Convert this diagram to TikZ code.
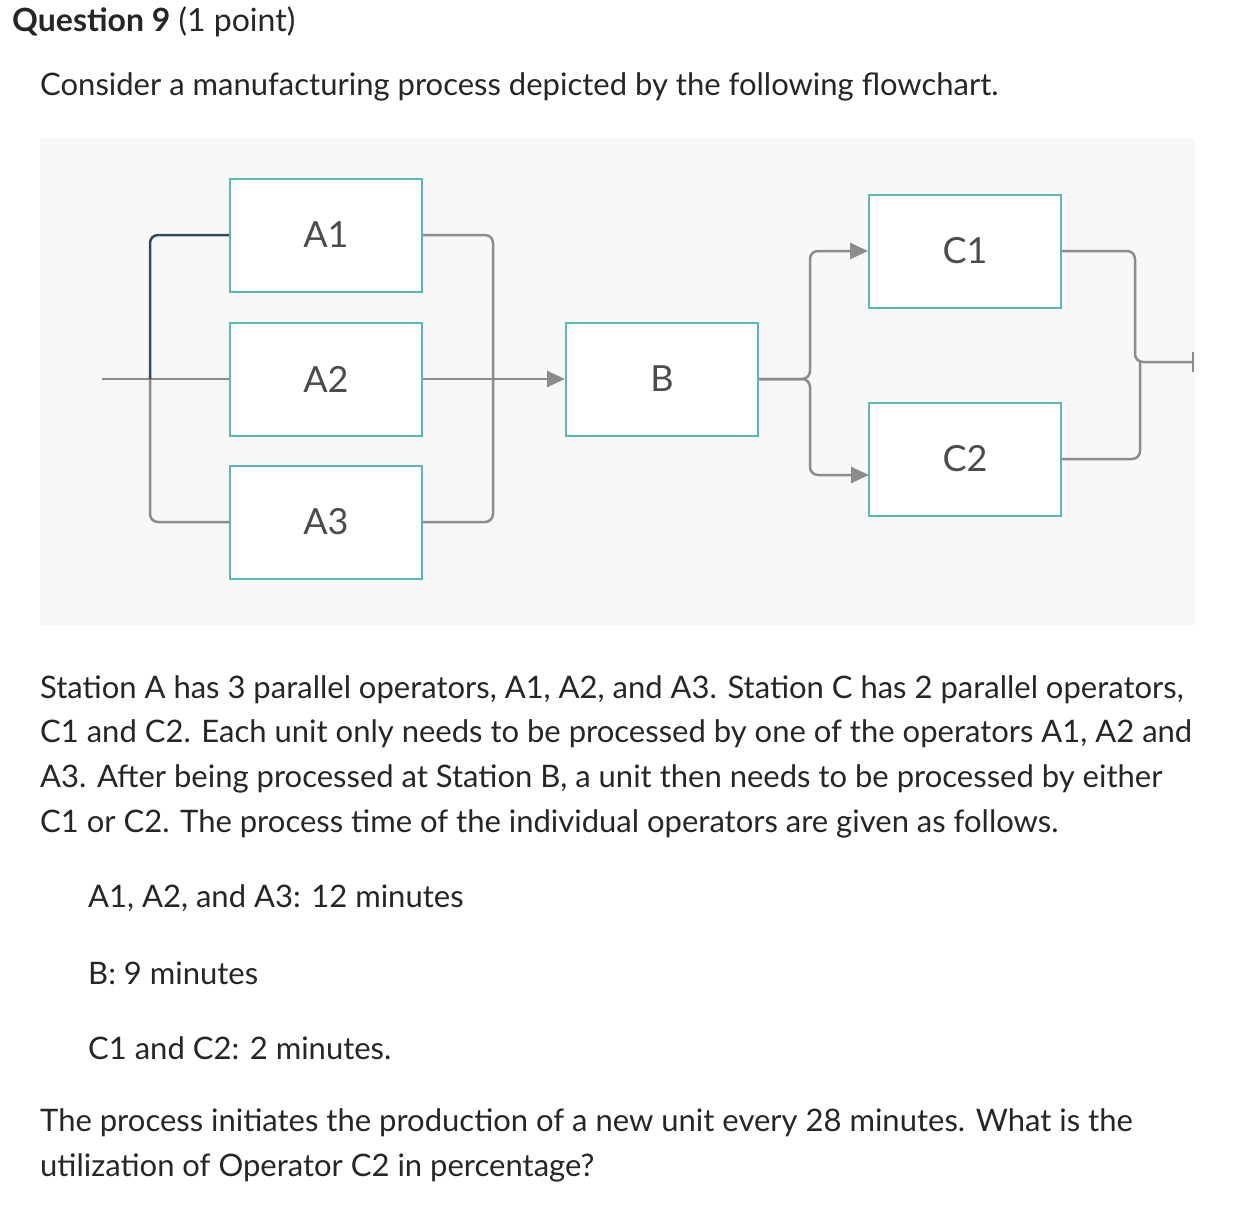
\documentclass[tikz,border=0pt]{standalone}
\usepackage{fontspec}
\setmainfont{Lato}
\usetikzlibrary{arrows.meta}
\definecolor{teal1}{HTML}{5BB8B5}
\definecolor{gline}{HTML}{8C8C8C}
\definecolor{dline}{HTML}{2F4A5E}
\definecolor{bgc}{HTML}{F8F8F8}
\begin{document}
\begin{tikzpicture}[x=1pt,y=-1pt,
 box/.style={draw=teal1,line width=2pt,fill=white,minimum width=192pt,minimum height=113pt,font=\fontsize{36}{42}\selectfont,text=black!70},
 conn/.style={draw=gline,line width=2.5pt,rounded corners=8pt},
 arr/.style={conn,-{Triangle[length=18pt,width=16pt]}},
 txt/.style={anchor=west,inner sep=0pt,font=\fontsize{31}{36}\selectfont,text=black!85}]
\useasboundingbox[fill=white] (0,0) rectangle (1242,1218);
\fill[bgc] (40,138) rectangle (1195,625);
\node[txt,font=\fontsize{32}{38}\selectfont] (t0) at (12,22) {\textbf{Question 9} (1 point)};
\node[txt] (t1) at (40,87) {Consider a manufacturing process depicted by the following flowchart.};
\node[box] (A1) at (326,235) {A1};
\node[box] (A2) at (326,379) {A2};
\node[box] (A3) at (326,522) {A3};
\node[box] (B) at (662,379) {B};
\node[box] (C1) at (965,251) {C1};
\node[box] (C2) at (965,459) {C2};
\coordinate (in) at (102,379);
\coordinate (out) at (1193,362);
\draw[conn] (in) -- (A2.west);
\draw[conn] (150,379) |- (A3.west);
\draw[conn,draw=dline] (150,379) |- (A1.west);
\draw[conn] (A1.east) -| (493,379);
\draw[conn] (A3.east) -| (493,379);
\draw[arr] (A2.east) -- (B.west);
\draw[arr] (B.east) -| (810,251) -- (C1.west);
\draw[arr] (B.east) -| (810,475) -- (869,475);
\draw[conn] (C1.east) -| (1135,362) -- (out);
\draw[conn] (C2.east) -| (1140,362);
\draw[gline,line width=2.5pt] (1193,352) -- (1193,372);
\node[txt] at (40,690) {Station A has 3 parallel operators, A1, A2, and A3. Station C has 2 parallel operators,};
\node[txt] at (40,734) {C1 and C2. Each unit only needs to be processed by one of the operators A1, A2 and};
\node[txt] at (40,779) {A3. After being processed at Station B, a unit then needs to be processed by either};
\node[txt] at (40,824) {C1 or C2. The process time of the individual operators are given as follows.};
\node[txt] at (88,898) {A1, A2, and A3: 12 minutes};
\node[txt] at (88,973) {B: 9 minutes};
\node[txt] at (88,1048) {C1 and C2: 2 minutes.};
\node[txt] at (40,1123) {The process initiates the production of a new unit every 28 minutes. What is the};
\node[txt] at (40,1168) {utilization of Operator C2 in percentage?};
\end{tikzpicture}
\end{document}
